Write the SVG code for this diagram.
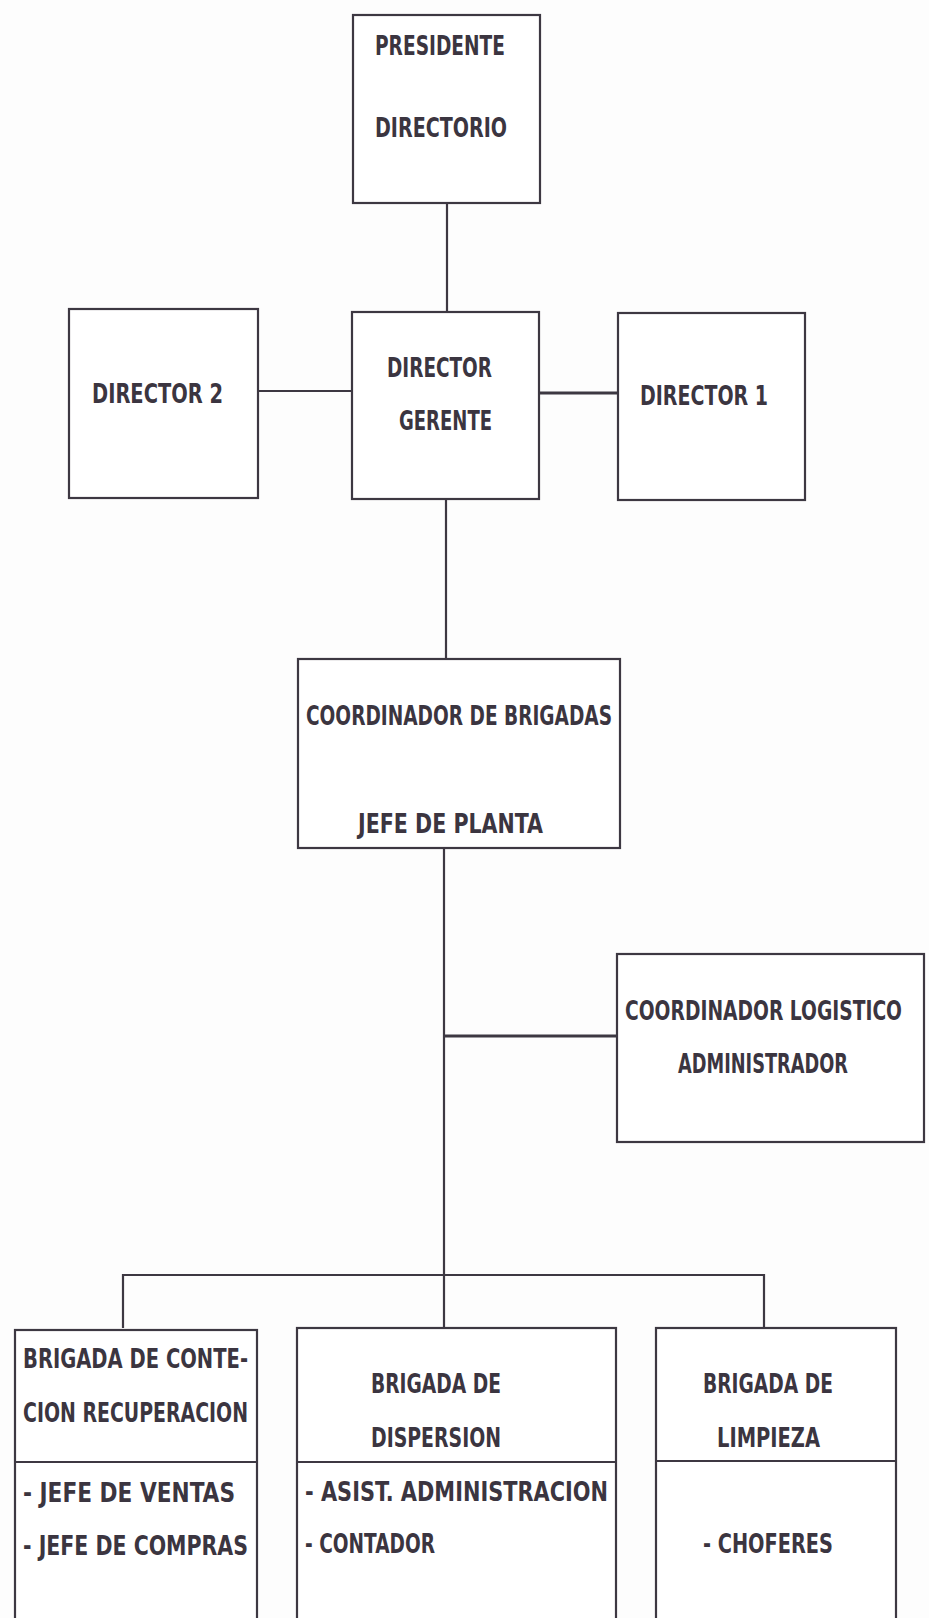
<svg xmlns="http://www.w3.org/2000/svg" width="929" height="1618" viewBox="0 0 929 1618">
  <style>
    .box { fill: #ffffff; stroke: #3d3842; stroke-width: 2.2; }
    .div { stroke: #3d3842; stroke-width: 2.2; fill: none; }
    .link { stroke: #3d3842; stroke-width: 2.2; fill: none; }
    .link.heavy { stroke-width: 3; }
    .t { font-family: "DejaVu Sans Condensed", "DejaVu Sans", "Liberation Sans", sans-serif; font-weight: bold; font-size: 27px; fill: #3b3540; }
  </style>
  <rect x="0" y="0" width="929" height="1618" fill="#fdfdfd"/>

  <!-- connectors -->
  <g id="connectors">
    <line class="link" x1="447" y1="203" x2="447" y2="312"/>
    <line class="link" x1="258" y1="391" x2="352" y2="391"/>
    <line class="link heavy" x1="539" y1="393" x2="618" y2="393"/>
    <line class="link" x1="446" y1="499" x2="446" y2="659"/>
    <line class="link" x1="444" y1="848" x2="444" y2="1328"/>
    <line class="link heavy" x1="444" y1="1036" x2="617" y2="1036"/>
    <polyline class="link" points="123,1328 123,1275 764,1275 764,1328"/>
  </g>

  <g id="presidente">
    <rect class="box" x="353" y="15" width="187" height="188"/>
    <text class="t" x="375" y="55" textLength="130" lengthAdjust="spacingAndGlyphs">PRESIDENTE</text>
    <text class="t" x="375" y="137" textLength="132" lengthAdjust="spacingAndGlyphs">DIRECTORIO</text>
  </g>

  <g id="director-2">
    <rect class="box" x="69" y="309" width="189" height="189"/>
    <text class="t" x="92" y="403" textLength="131" lengthAdjust="spacingAndGlyphs">DIRECTOR 2</text>
  </g>

  <g id="director-gerente">
    <rect class="box" x="352" y="312" width="187" height="187"/>
    <text class="t" x="387" y="377" textLength="105" lengthAdjust="spacingAndGlyphs">DIRECTOR</text>
    <text class="t" x="399" y="430" textLength="93" lengthAdjust="spacingAndGlyphs">GERENTE</text>
  </g>

  <g id="director-1">
    <rect class="box" x="618" y="313" width="187" height="187"/>
    <text class="t" x="640" y="405" textLength="128" lengthAdjust="spacingAndGlyphs">DIRECTOR 1</text>
  </g>

  <g id="coordinador-brigadas">
    <rect class="box" x="298" y="659" width="322" height="189"/>
    <text class="t" x="306" y="725" textLength="306" lengthAdjust="spacingAndGlyphs">COORDINADOR DE BRIGADAS</text>
    <text class="t" x="358" y="833" textLength="185" lengthAdjust="spacingAndGlyphs">JEFE DE PLANTA</text>
  </g>

  <g id="coordinador-logistico">
    <rect class="box" x="617" y="954" width="307" height="188"/>
    <text class="t" x="625" y="1020" textLength="277" lengthAdjust="spacingAndGlyphs">COORDINADOR LOGISTICO</text>
    <text class="t" x="678" y="1073" textLength="170" lengthAdjust="spacingAndGlyphs">ADMINISTRADOR</text>
  </g>

  <g id="brigada-contencion">
    <rect class="box" x="15" y="1330" width="242" height="310"/>
    <line class="div" x1="15" y1="1462" x2="257" y2="1462"/>
    <text class="t" x="23" y="1368" textLength="225" lengthAdjust="spacingAndGlyphs">BRIGADA DE CONTE-</text>
    <text class="t" x="23" y="1422" textLength="225" lengthAdjust="spacingAndGlyphs">CION RECUPERACION</text>
    <text class="t" x="23" y="1502" textLength="212" lengthAdjust="spacingAndGlyphs">- JEFE DE VENTAS</text>
    <text class="t" x="23" y="1555" textLength="225" lengthAdjust="spacingAndGlyphs">- JEFE DE COMPRAS</text>
  </g>

  <g id="brigada-dispersion">
    <rect class="box" x="297" y="1328" width="319" height="312"/>
    <line class="div" x1="297" y1="1462" x2="616" y2="1462"/>
    <text class="t" x="371" y="1393" textLength="130" lengthAdjust="spacingAndGlyphs">BRIGADA DE</text>
    <text class="t" x="371" y="1447" textLength="130" lengthAdjust="spacingAndGlyphs">DISPERSION</text>
    <text class="t" x="305" y="1501" textLength="303" lengthAdjust="spacingAndGlyphs">- ASIST. ADMINISTRACION</text>
    <text class="t" x="305" y="1553" textLength="130" lengthAdjust="spacingAndGlyphs">- CONTADOR</text>
  </g>

  <g id="brigada-limpieza">
    <rect class="box" x="656" y="1328" width="240" height="312"/>
    <line class="div" x1="656" y1="1461" x2="896" y2="1461"/>
    <text class="t" x="703" y="1393" textLength="130" lengthAdjust="spacingAndGlyphs">BRIGADA DE</text>
    <text class="t" x="717" y="1447" textLength="103" lengthAdjust="spacingAndGlyphs">LIMPIEZA</text>
    <text class="t" x="703" y="1553" textLength="130" lengthAdjust="spacingAndGlyphs">- CHOFERES</text>
  </g>
</svg>
